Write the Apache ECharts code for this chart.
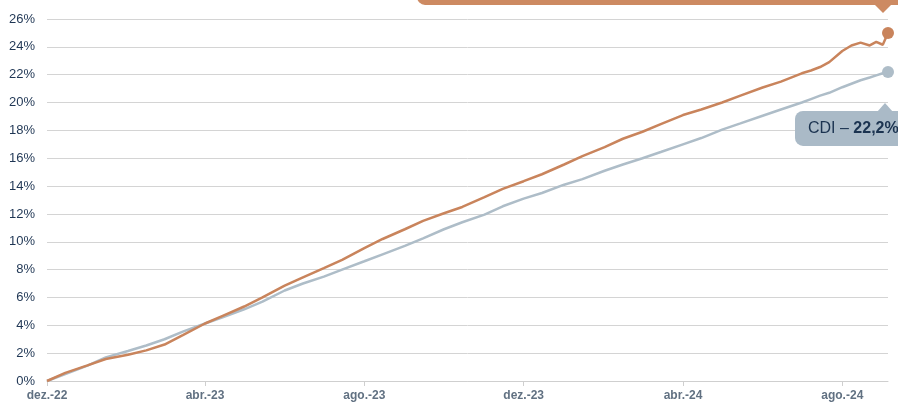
<!DOCTYPE html>
<html>
<head>
<meta charset="utf-8">
<script src="https://cdn.jsdelivr.net/npm/echarts@6/dist/echarts.min.js"></script>
<style>
html,body{margin:0;padding:0;background:#fff;}
#c{width:898px;height:402px;}
</style>
</head>
<body>
<div id="c"></div>
<script>
const dates = ['2022-12-01','2022-12-15','2023-01-01','2023-01-15','2023-02-01','2023-02-15','2023-03-01','2023-03-15',
'2023-04-01','2023-04-15','2023-05-01','2023-05-15','2023-06-01','2023-06-15','2023-07-01','2023-07-15',
'2023-08-01','2023-08-15','2023-09-01','2023-09-15','2023-10-01','2023-10-15','2023-11-01','2023-11-15',
'2023-12-01','2023-12-15','2024-01-01','2024-01-15','2024-02-01','2024-02-15','2024-03-01','2024-03-15',
'2024-04-01','2024-04-15','2024-05-01','2024-05-15','2024-06-01','2024-06-15','2024-07-01','2024-07-08',
'2024-07-15','2024-07-22','2024-08-01','2024-08-08','2024-08-15','2024-08-22','2024-08-27','2024-09-01','2024-09-05'];
const fundo = [0,0.58,1.12,1.58,1.88,2.2,2.62,3.3,
4.13,4.7,5.35,6.0,6.85,7.45,8.1,8.7,
9.55,10.2,10.9,11.5,12.05,12.5,13.2,13.8,
14.35,14.85,15.55,16.15,16.8,17.4,17.9,18.45,
19.1,19.5,20.0,20.5,21.08,21.5,22.1,22.3,
22.55,22.9,23.7,24.1,24.3,24.1,24.35,24.15,25.0];
const cdi = [0,0.5,1.1,1.7,2.15,2.55,3.0,3.55,
4.13,4.6,5.15,5.7,6.5,7.0,7.5,8.0,
8.6,9.1,9.7,10.25,10.9,11.4,11.95,12.55,
13.1,13.5,14.1,14.5,15.1,15.55,16.0,16.45,
17.0,17.45,18.05,18.5,19.05,19.5,20.0,20.25,
20.5,20.7,21.1,21.35,21.6,21.8,21.95,22.1,22.2];
const tickDates = ['2022-12-01','2023-04-01','2023-08-01','2023-12-01','2024-04-01','2024-08-01'];
const tickLabels = ['dez.-22','abr.-23','ago.-23','dez.-23','abr.-24','ago.-24'];
const cdiName = 'CDI';
const fundoName = 'Fundo';

const DAY = 86400000;
const utc = s => { const p = s.split('-').map(Number); return Date.UTC(p[0], p[1]-1, p[2]); };
const t0 = utc(dates[0]);
const dayOf = s => Math.round((utc(s) - t0) / DAY);
const xs = dates.map(dayOf);
const tickDays = tickDates.map(dayOf);
const fundoData = xs.map((x,i)=>[x,fundo[i]]);
const cdiData = xs.map((x,i)=>[x,cdi[i]]);
const last = xs.length-1;
const fmt = v => v.toFixed(1).replace('.', ',') + '%';

const ORANGE = '#c9845c';
const GRAY = '#aebdc8';
const FONT = '"Liberation Sans", Arial, sans-serif';

const chart = echarts.init(document.getElementById('c'), null, {renderer:'canvas'});
chart.setOption({
  animation:false,
  grid:{left:47,right:10,top:19,bottom:18,containLabel:false},
  xAxis:{
    type:'value', min:xs[0], max:xs[last],
    axisLine:{show:true,lineStyle:{color:'#cfcfcf',width:1}},
    axisTick:{show:true,customValues:tickDays,length:5,lineStyle:{color:'#cfcfcf'}},
    axisLabel:{customValues:tickDays,margin:9,color:'#617182',fontWeight:'bold',fontSize:12,fontFamily:FONT,
      formatter:v=>{const i=tickDays.indexOf(v);return i>=0?tickLabels[i]:'';}},
    splitLine:{show:false}
  },
  yAxis:{
    type:'value', min:0, max:26, interval:2,
    axisLine:{show:false}, axisTick:{show:false},
    axisLabel:{margin:12,color:'#1f3654',fontSize:13,fontFamily:FONT,formatter:v=>v+'%'},
    splitLine:{lineStyle:{color:'#d4d4d4',width:1}}
  },
  series:[
    {name:cdiName,type:'line',data:cdiData,showSymbol:false,smooth:false,
      lineStyle:{color:GRAY,width:2.5},itemStyle:{color:GRAY},z:2,
      markPoint:{symbol:'circle',symbolSize:12,label:{show:false},itemStyle:{color:GRAY},
        data:[{coord:cdiData[last]}]}},
    {name:fundoName,type:'line',data:fundoData,showSymbol:false,smooth:false,
      lineStyle:{color:ORANGE,width:2.5},itemStyle:{color:ORANGE},z:3,
      markPoint:{symbol:'circle',symbolSize:12,label:{show:false},itemStyle:{color:ORANGE},
        data:[{coord:fundoData[last]}]}},
    {type:'custom',clip:false,z:5,data:[cdiData[last]],encode:{x:0,y:1},
      renderItem:(params,api)=>{
        const p = api.coord([api.value(0),api.value(1)]);
        return {type:'group',children:[
          {type:'polygon',shape:{points:[[p[0]-3,p[1]+31],[p[0]-11,p[1]+40],[p[0]+5,p[1]+40]]},style:{fill:'#aabac7'}},
          {type:'rect',shape:{x:p[0]-93,y:p[1]+39,width:200,height:35,r:8},style:{fill:'#aabac7'}},
          {type:'text',x:p[0]-80,y:p[1]+57,style:{text:'{a|'+cdiName+' – }{b|'+fmt(cdi[last])+'}',verticalAlign:'middle',
            rich:{a:{fontSize:16,fontFamily:FONT,fill:'#1b3350'},b:{fontSize:16,fontFamily:FONT,fontWeight:'bold',fill:'#1b3350'}}}}
        ]};
      }},
    {type:'custom',clip:false,z:5,data:[fundoData[last]],encode:{x:0,y:1},
      renderItem:(params,api)=>{
        const p = api.coord([api.value(0),api.value(1)]);
        return {type:'group',children:[
          {type:'polygon',shape:{points:[[p[0]-5,p[1]-20],[p[0]-14,p[1]-29],[p[0]+4,p[1]-29]]},style:{fill:'#cd8a62'}},
          {type:'rect',shape:{x:p[0]-471,y:p[1]-65,width:600,height:37,r:8},style:{fill:'#cd8a62'}}
        ]};
      }}
  ]
});
</script>
</body>
</html>
